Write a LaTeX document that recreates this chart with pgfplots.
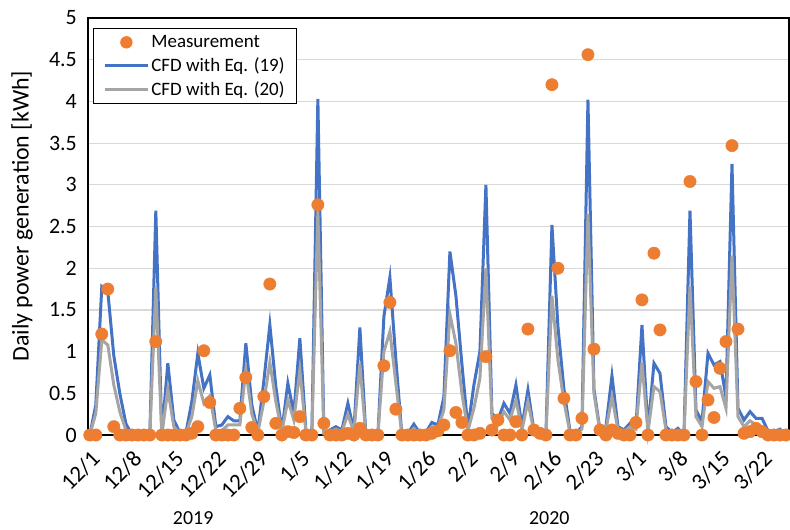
\documentclass[border=0pt]{standalone}
\usepackage{pgfplots}
\usepackage{pgfplotstable}
\pgfplotsset{compat=1.18}
\usepackage{fontspec}
\setmainfont{Carlito}
\definecolor{cBlue}{HTML}{4472C4}
\definecolor{cGray}{HTML}{A5A5A5}
\definecolor{cOrange}{HTML}{ED7D31}
\definecolor{cGrid}{HTML}{D9D9D9}
\pgfplotstableread{
d blue gray meas
0 0 0 0
1 0.36 0.26 0
2 1.78 1.14 1.21
3 1.72 1.08 1.75
4 0.95 0.6 0.1
5 0.5 0.28 0
6 0.14 0.06 0
7 0 0 0
8 0 0 0
9 0 0 0
10 0 0 0
11 2.69 1.77 1.12
12 0 0 0
13 0.86 0.55 0
14 0.18 0.1 0
15 0.03 0.02 0
16 0.02 0.01 0
17 0.4 0.22 0.02
18 0.98 0.65 0.1
19 0.56 0.38 1.01
20 0.72 0.47 0.39
21 0.1 0.05 0
22 0.12 0.05 0
23 0.22 0.12 0
24 0.17 0.12 0
25 0.17 0.12 0.32
26 1.1 0.78 0.69
27 0.36 0.25 0.09
28 0.04 0.03 0
29 0.65 0.4 0.46
30 1.32 0.87 1.81
31 0.58 0.4 0.14
32 0.05 0.04 0
33 0.62 0.42 0.04
34 0.26 0.18 0.03
35 1.16 0.78 0.22
36 0.06 0.04 0
37 0.02 0.01 0
38 4.03 2.68 2.76
39 0.03 0.02 0.14
40 0.06 0.04 0
41 0.1 0.07 0
42 0.06 0.04 0
43 0.38 0.25 0.02
44 0.05 0.03 0
45 1.29 0.85 0.08
46 0 0 0
47 0 0 0
48 0 0 0
49 1.42 1.0 0.83
50 1.89 1.24 1.59
51 0.9 0.62 0.31
52 0 0 0
53 0.02 0.01 0
54 0.13 0.08 0
55 0.02 0.01 0
56 0.03 0.02 0
57 0.15 0.1 0.02
58 0.12 0.09 0.05
59 0.46 0.3 0.12
60 2.2 1.45 1.01
61 1.67 1.1 0.27
62 0.85 0.5 0.15
63 0.08 0.05 0
64 0.6 0.32 0
65 1.0 0.68 0.02
66 3.0 2.0 0.94
67 0.26 0.2 0.06
68 0.18 0.12 0.18
69 0.38 0.28 0
70 0.26 0.18 0
71 0.6 0.42 0.16
72 0.1 0.06 0
73 0.54 0.4 1.27
74 0.05 0.04 0.06
75 0 0 0.02
76 0 0 0
77 2.52 1.67 4.2
78 1.3 0.9 2.0
79 0.55 0.4 0.44
80 0.05 0.03 0
81 0.02 0.01 0
82 0.1 0.07 0.2
83 4.02 2.65 4.56
84 0.55 0.5 1.03
85 0.06 0.04 0.06
86 0.1 0.06 0
87 0.71 0.46 0.06
88 0.1 0.06 0.02
89 0.06 0.04 0
90 0.14 0.1 0
91 0.1 0.07 0.15
92 1.32 0.87 1.62
93 0.06 0.04 0
94 0.86 0.58 2.18
95 0.74 0.52 1.26
96 0.1 0.06 0
97 0.03 0.02 0
98 0.08 0.05 0
99 0 0 0
100 2.69 1.78 3.04
101 0.3 0.22 0.64
102 0.16 0.1 0
103 0.98 0.64 0.42
104 0.84 0.56 0.21
105 0.88 0.58 0.8
106 0.45 0.32 1.12
107 3.25 2.15 3.47
108 0.32 0.22 1.27
109 0.18 0.1 0.02
110 0.28 0.17 0.04
111 0.2 0.12 0.08
112 0.2 0.1 0.04
113 0.05 0.02 0
114 0.04 0.02 0
115 0.07 0.04 0
116 0 0 0
}\datatable
\begin{document}
\begin{tikzpicture}
\path[use as bounding box] (0,0) rectangle (790bp,530bp);
\begin{axis}[
  at={(88bp,95bp)}, anchor=south west,
  scale only axis, width=701bp, height=417bp,
  xmin=-0.3, xmax=116.5, ymin=0, ymax=5,
  axis line style={black, line width=1.3bp},
  xtick={0,7,...,112},
  xticklabels={12/1,12/8,12/15,12/22,12/29,1/5,1/12,1/19,1/26,2/2,2/9,2/16,2/23,3/1,3/8,3/15,3/22},
  ytick={0,0.5,...,5},
  yticklabels={0,0.5,1,1.5,2,2.5,3,3.5,4,4.5,5},
  major tick length=0pt,
  ymajorgrids, grid style={cGrid, line width=1.2bp},
  tick label style={font=\fontsize{22}{25}\selectfont},
  /pgf/number format/assume math mode=true,
  x tick label style={rotate=45, anchor=north east, inner sep=1bp, xshift=-9bp, yshift=-9bp, font=\fontsize{23}{26}\selectfont},
  y tick label style={inner sep=0pt, xshift=-11bp},
  ylabel={{Daily power generation [kWh]}},
  ylabel style={at={(axis description cs:-0.094,0.525)}, anchor=center, font=\fontsize{24}{28}\selectfont},
  clip=false,
  legend style={at={(0.007,0.976)}, anchor=north west, draw=black, line width=1bp, fill=white,
    font=\fontsize{19}{22}\selectfont, inner xsep=10bp, inner ysep=5bp, row sep=4.5bp,
    cells={anchor=west}},
  legend cell align=left,
]
\addplot[cBlue, line width=3bp, forget plot] table[x=d, y=blue] {\datatable};
\addplot[cGray, line width=3bp, forget plot] table[x=d, y=gray] {\datatable};
\addplot[only marks, mark=*, mark size=6.2bp, cOrange, draw=none, forget plot] table[x=d, y=meas] {\datatable};
\addlegendimage{only marks, mark=*, mark size=6.2bp, cOrange, draw=none,
  legend image code/.code={\fill[cOrange] (0.5*43bp,0bp) circle (6.2bp);}}
\addlegendentry{Measurement}
\addlegendimage{cBlue, line width=3bp, legend image code/.code={\draw[cBlue, line width=3bp] (0bp,0bp) -- (43bp,0bp);}}
\addlegendentry{CFD with Eq. (19)}
\addlegendimage{cGray, line width=3bp, legend image code/.code={\draw[cGray, line width=3bp] (0bp,0bp) -- (43bp,0bp);}}
\addlegendentry{CFD with Eq. (20)}
\node[font=\fontsize{20}{23}\selectfont] at (axis description cs:0.15,-0.199) {2019};
\node[font=\fontsize{20}{23}\selectfont] at (axis description cs:0.658,-0.199) {2020};
\end{axis}
\end{tikzpicture}
\end{document}
